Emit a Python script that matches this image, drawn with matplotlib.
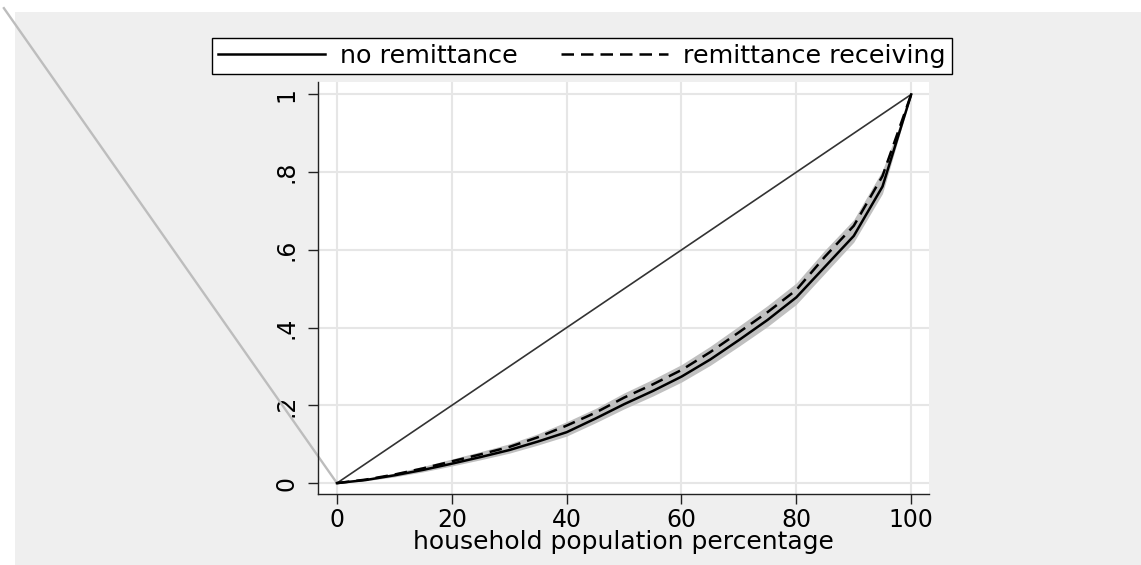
import matplotlib.pyplot as plt
from matplotlib.patches import Rectangle

plt.rcParams['font.family'] = ['DejaVu Sans']

# Lorenz curve points (share of households, cumulative share)
pop_pct = [0, 5, 10, 15, 20, 25, 30, 35, 40, 45, 50, 55, 60, 65, 70, 75, 80, 85, 90, 95, 100]
no_remit = [0, 0.008, 0.020, 0.034, 0.050, 0.067, 0.085, 0.107, 0.131, 0.166, 0.203, 0.237,
            0.274, 0.318, 0.368, 0.420, 0.478, 0.557, 0.636, 0.763, 1.0]
remit = [0, 0.009, 0.022, 0.038, 0.056, 0.074, 0.093, 0.118, 0.148, 0.181, 0.220, 0.254,
         0.291, 0.337, 0.388, 0.440, 0.497, 0.583, 0.662, 0.790, 1.0]
ci_low = [0, 0.006, 0.016, 0.029, 0.044, 0.060, 0.077, 0.098, 0.121, 0.155, 0.191, 0.224,
          0.260, 0.303, 0.352, 0.403, 0.460, 0.540, 0.620, 0.745, 1.0]
ci_high = [0, 0.011, 0.026, 0.043, 0.062, 0.081, 0.101, 0.127, 0.158, 0.192, 0.232, 0.267,
           0.305, 0.352, 0.404, 0.457, 0.515, 0.600, 0.678, 0.805, 1.0]
equal_x = [0, 100]
equal_y = [0, 1]
stray_x = [0, -58.0]
stray_y = [0, 1.222]
xticks = [0, 20, 40, 60, 80, 100]
yticks = [0, 0.2, 0.4, 0.6, 0.8, 1.0]
ytick_labels = ['0', '.2', '.4', '.6', '.8', '1']

fig = plt.figure(figsize=(11.41, 5.65), dpi=100)
fig.patch.set_facecolor('white')
# grey outer panel, drawn behind the axes
bg = Rectangle((15 / 1141, 0), 1, 1 - 12 / 565, transform=fig.transFigure,
               facecolor='#efefef', edgecolor='none', zorder=-10)
fig.add_artist(bg)

ax = fig.add_axes([318 / 1141, 1 - 494 / 565, 611 / 1141, 412 / 565])
ax.set_facecolor('white')

ax.fill_between(pop_pct, ci_low, ci_high, color='#c0c0c0', lw=0, zorder=2)
ax.plot(equal_x, equal_y, color='#333333', lw=1.2, zorder=3)
l1, = ax.plot(pop_pct, no_remit, color='black', lw=1.8, zorder=4)
l2, = ax.plot(pop_pct, remit, color='black', lw=1.8, ls=(0, (5, 2.8)), zorder=5)
ax.plot(stray_x, stray_y, color='#bdbdbd', lw=1.7, clip_on=False, zorder=1)

ax.set_xlim(-3.3, 103.1)
ax.set_ylim(-0.028, 1.032)
ax.set_xticks(xticks)
ax.set_yticks(yticks)
ax.set_yticklabels(ytick_labels, rotation=90, va='center')
ax.grid(True, color='#e6e6e6', lw=1.5)
ax.set_axisbelow(True)
ax.tick_params(axis='both', length=7, width=1, labelsize=17, color='#222222')
ax.tick_params(axis='x', pad=3)
ax.tick_params(axis='y', pad=7)
for s in ['top', 'right']:
    ax.spines[s].set_visible(False)
for s in ['left', 'bottom']:
    ax.spines[s].set_linewidth(1)
    ax.spines[s].set_color('#222222')

ax.set_xlabel('household population percentage', fontsize=18, labelpad=-1)

leg = fig.legend([l1, l2], ['no remittance', 'remittance receiving'], loc='center',
                 bbox_to_anchor=(0.510, 1 - 56 / 565), bbox_transform=fig.transFigure,
                 ncol=2, fontsize=18.3, frameon=True, fancybox=False, edgecolor='black',
                 framealpha=1, handlelength=4.2, handletextpad=0.6, columnspacing=1.7,
                 borderpad=0.25, borderaxespad=0)
leg.get_frame().set_linewidth(1)
leg.get_frame().set_facecolor('white')

fig.savefig('out.png', dpi=100)
